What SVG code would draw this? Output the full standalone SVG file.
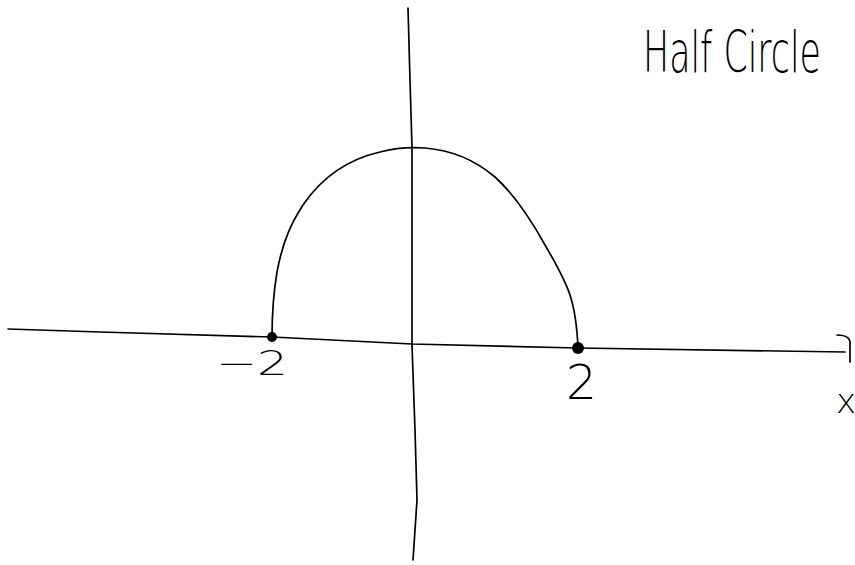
<svg xmlns="http://www.w3.org/2000/svg" width="855" height="565" viewBox="0 0 855 565">
<style>
.ln{fill:none;stroke:#000;stroke-width:1.7;stroke-linecap:round;stroke-linejoin:round}
.lbl{font-family:"DejaVu Sans","Liberation Sans",sans-serif;font-weight:200;fill:#000}
</style>
<rect width="855" height="565" fill="#fff"/>
<g id="axes">
<path class="ln" d="M8,329 L100,332 L272,337 L412,344 L578,348 L845,352"/>
<path class="ln" d="M837,335 C846,335 851,338 850,345 L850,362"/>
<path class="ln" d="M408,8 L410,80 L412,148 L412,345 L415,430 L417,500 L414,545 L413,560"/>
</g>
<g id="curve">
<path class="ln" d="M272,337 C272,310 274,290 277,272 C283,240 292,222 303,205 C320,180 345,160 380,152 C395,148 410,147 425,148 C450,150 475,160 495,177 C515,195 530,218 545,245 C555,262 565,280 570,295 C575,310 577,325 578,348"/>
<circle cx="272" cy="337" r="5" fill="#000"/>
<circle cx="578" cy="348" r="6" fill="#000"/>
</g>
<g id="labels">
<text class="lbl" font-size="38" textLength="178" lengthAdjust="spacingAndGlyphs" transform="translate(643,72) scale(1,1.5)">Half Circle</text>
<text class="lbl" x="216" y="375" font-size="34" textLength="72" lengthAdjust="spacingAndGlyphs">−2</text>
<text class="lbl" x="566" y="399" font-size="48" textLength="31" lengthAdjust="spacingAndGlyphs">2</text>
<text class="lbl" x="836" y="413" font-size="34">x</text>
</g>
</svg>
